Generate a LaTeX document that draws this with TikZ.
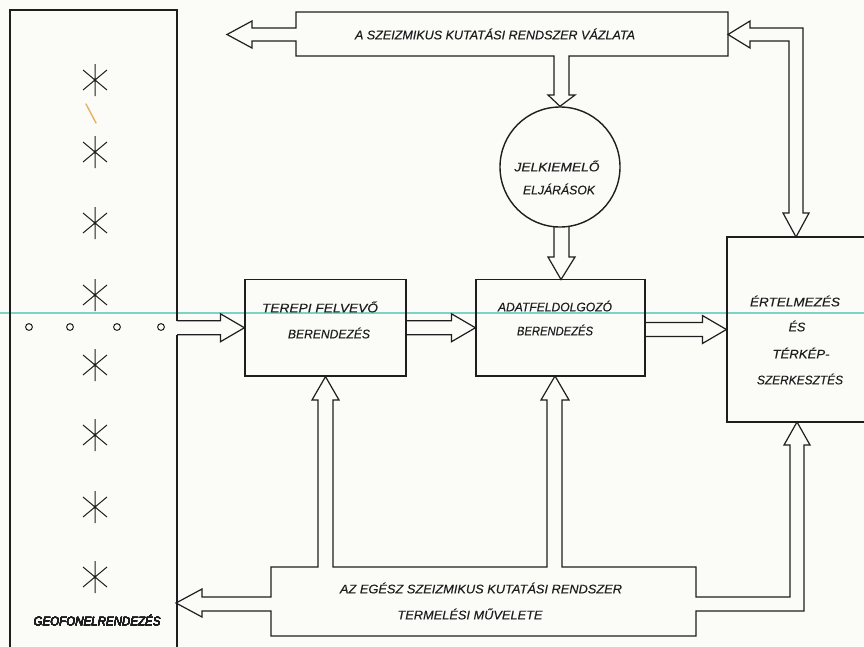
\documentclass[tikz,border=0pt]{standalone}
\usepackage{fontspec}
\setmainfont{Liberation Sans}
\newfontfamily\lettering{Liberation Sans}[FakeBold=0.3]
\usetikzlibrary{calc}
\definecolor{paper}{HTML}{FBFBF8}
\definecolor{ink}{HTML}{1E1E1E}
\definecolor{scancyan}{HTML}{7CD3C6}
\definecolor{scanorange}{HTML}{E8B060}
\newcommand\fitw[2]{\resizebox{#1pt}{\height}{#2}}
\newcommand\fatright[3]{%
  \draw[ln] let \p1=(#1), \p2=(#2) in
    ({\x1},{\y2+#3}) -- ({\x2-24pt},{\y2+#3}) -- ({\x2-24pt},{\y2+14pt}) --
    ({\x2},{\y2}) -- ({\x2-24pt},{\y2-14pt}) -- ({\x2-24pt},{\y2-#3}) -- ({\x1},{\y2-#3});}
\newcommand\geostar[1]{%
  \draw[ln, line width=1pt] ($(#1)+(0,-16)$) -- ($(#1)+(0,16)$)
    ($(#1)+(-12,-10)$) -- ($(#1)+(12,10)$)
    ($(#1)+(-12,10)$) -- ($(#1)+(12,-10)$);
  \fill[ink] (#1) circle (1.7);}
\begin{document}
\begin{tikzpicture}[x=1pt,y=-1pt, line width=1.2pt, line join=miter,
  ln/.style={draw=ink},
  boxnode/.style={draw=ink, rectangle, inner sep=0pt},
  lbl/.style={font=\lettering\itshape\fontsize{12.5}{13}\selectfont, inner sep=0pt, text=ink}]
\useasboundingbox (0,0) rectangle (864,646);
\fill[paper] (0,0) rectangle (864,646);

% scan artefacts
\draw[scancyan, line width=1.2pt] (0,313) -- (864,313);
\draw[scanorange, line width=1.4pt, line cap=round] (86,104) -- (96,123);

% boxes
\node[boxnode, minimum width=161, minimum height=96.5] (terepi) at (325.5,327.75) {};
\node[boxnode, minimum width=169, minimum height=96.5] (adat) at (560.5,327.75) {};
\node[boxnode, minimum width=160, minimum height=185] (ertel) at (807,329.5) {};
\node[draw=ink, circle, minimum size=120, inner sep=0pt, line width=1.4pt] (circ) at (560,167) {};
\coordinate (colR) at (177,328);

% left column (geophone layout)
\draw[ln] (177,321) -- (177,10) -- (10,10) -- (10,650);
\draw[ln] (177,335) -- (177,650);
\foreach \x in {29,70,117,161} \draw[ink, line width=1pt] (\x,327) circle (3.4);
\foreach \y in {80,152,223,295,365,435,507,577} \geostar{95,\y}
\node[lbl] (geo) at (97,620) {\fitw{127}{GEOFONELRENDEZÉS}};

% top banner with arrows
\draw[ln] (296,28) -- (296,12) -- (728,12) -- (728,56) -- (569,56) -- (569,95)
  -- (575,95) -- (circ.north) -- (548,95) -- (554,95) -- (554,56) -- (296,56)
  -- (296,41) -- (252,41) -- (252,48) -- (227,34.5) -- (252,21) -- (252,28) -- cycle;
\node[lbl] (top) at (495,34) {\fitw{280}{A SZEIZMIKUS KUTATÁSI RENDSZER VÁZLATA}};

% double arrow banner <-> interpretation
\draw[ln] (750,28) -- (750,21) -- (728,34.5) -- (750,48) -- (750,41) -- (789,41)
  -- (789,213) -- (783,213) -- (796,237) -- (809,213) -- (803,213)
  -- (803,28) -- cycle;

% circle -> adat
\draw[ln] (554,226) -- (554,257) -- (548,257) -- (561,279.5) -- (575,257) -- (569,257) -- (569,226);

% horizontal flow
\fatright{colR}{terepi.west}{7pt}
\fatright{terepi.east}{adat.west}{7pt}
\fatright{adat.east}{ertel.west}{7pt}

% bottom banner with arrows
\draw[ln] (271,597) -- (271,567) -- (318,567) -- (318,400) -- (312,400) -- (terepi.south)
  -- (339,400) -- (333,400) -- (333,567) -- (547,567) -- (547,400) -- (541,400)
  -- (555,376) -- (569,400) -- (562,400) -- (562,567) -- (696,567) -- (696,597)
  -- (790,597) -- (790,445) -- (784,445) -- (797,422) -- (810,445) -- (804,445)
  -- (804,611) -- (696,611) -- (696,636) -- (271,636) -- (271,611) -- (202,611)
  -- (202,617) -- (176,603) -- (202,589) -- (202,597) -- cycle;
\node[lbl] (bot1) at (481,588) {\fitw{282}{AZ EGÉSZ SZEIZMIKUS KUTATÁSI RENDSZER}};
\node[lbl] (bot2) at (470,614) {\fitw{145}{TERMELÉSI MŰVELETE}};

% labels
\node[lbl] (c1) at (557,166) {\fitw{85}{JELKIEMELŐ}};
\node[lbl] (c2) at (559,189) {\fitw{72}{ELJÁRÁSOK}};
\node[lbl] (t1) at (320,307) {\fitw{116}{TEREPI FELVEVŐ}};
\node[lbl] (t2) at (329,333) {\fitw{82}{BERENDEZÉS}};
\node[lbl] (a1) at (555,306) {\fitw{114}{ADATFELDOLGOZÓ}};
\node[lbl] (a2) at (555,330) {\fitw{76}{BERENDEZÉS}};
\node[lbl] (e1) at (795,301) {\fitw{90}{ÉRTELMEZÉS}};
\node[lbl] (e2) at (797,326) {ÉS};
\node[lbl] (e3) at (801,353) {\fitw{57}{TÉRKÉP-}};
\node[lbl] (e4) at (800,379) {\fitw{86}{SZERKESZTÉS}};
\end{tikzpicture}
\end{document}
